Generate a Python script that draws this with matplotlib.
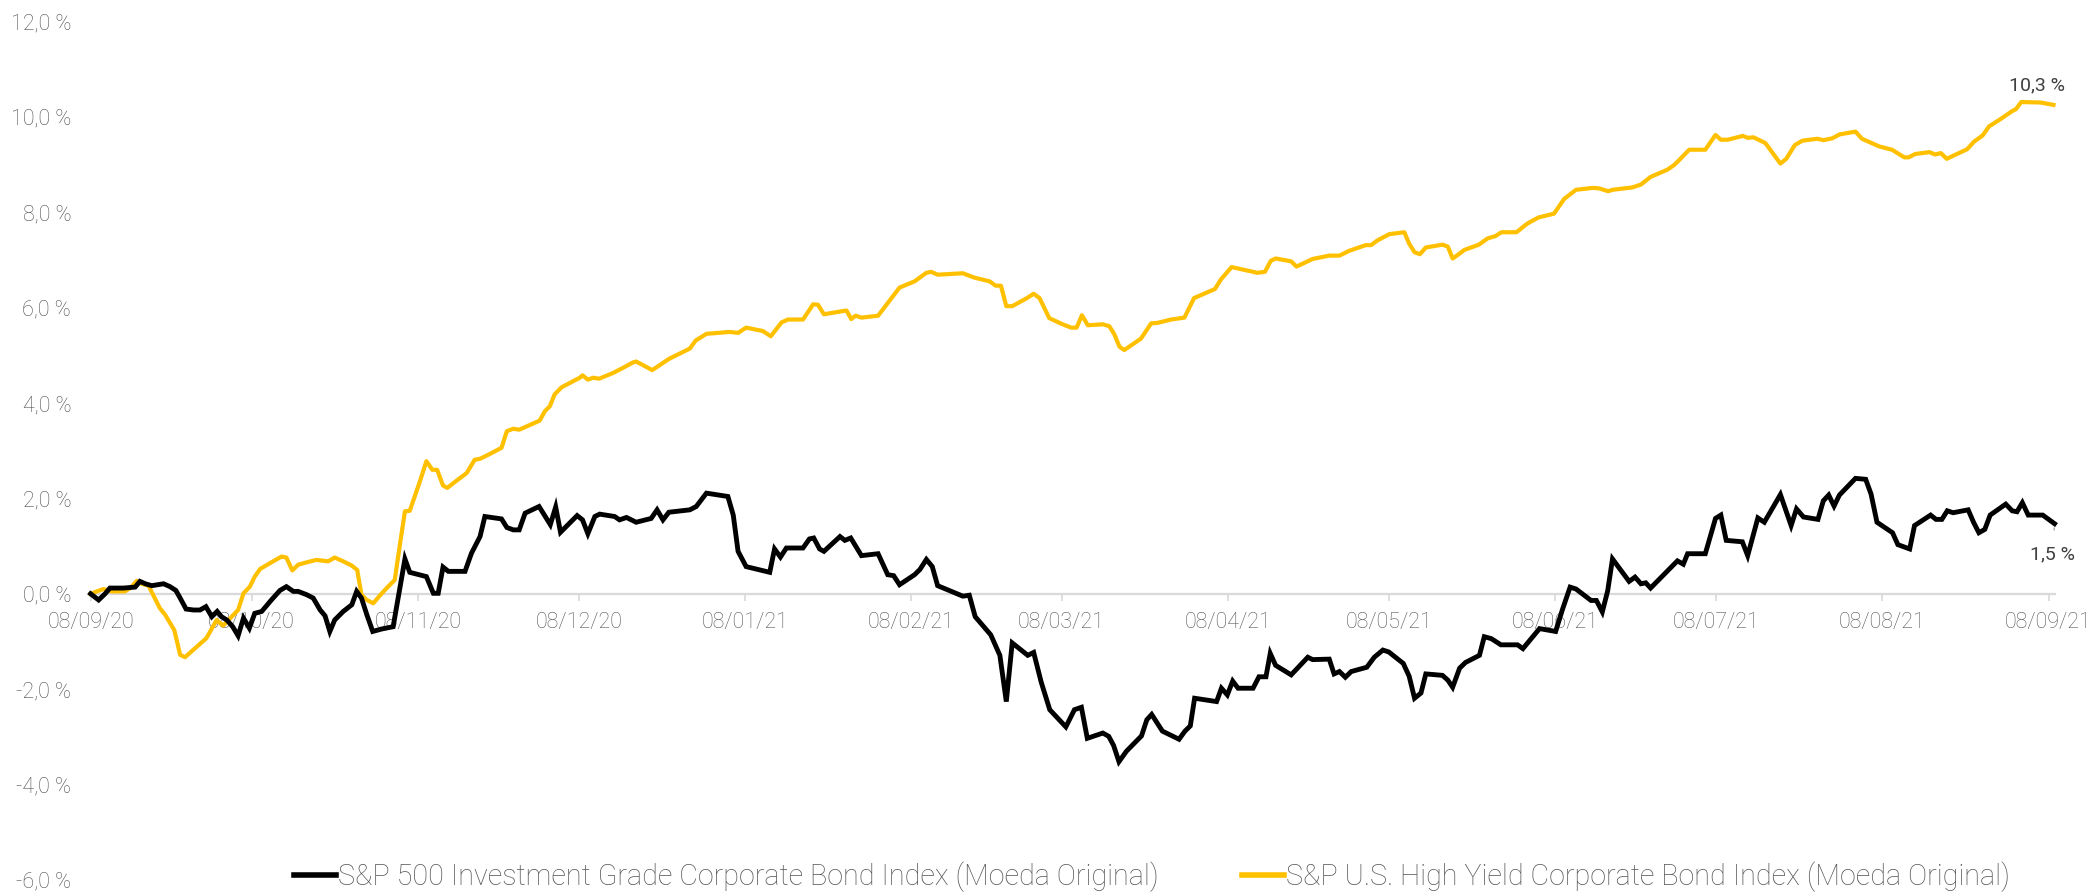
import matplotlib
matplotlib.use("Agg")
import matplotlib.pyplot as plt
import matplotlib.dates as mdates
from matplotlib.ticker import FuncFormatter
import pandas as pd

plt.rcParams['font.family'] = ['Roboto', 'DejaVu Sans']

start_date = "2020-09-08"

# S&P U.S. High Yield Corporate Bond Index (days since start, cumulative return %)
hy_days = [0, 2.4, 3.9, 6.4, 7.4, 8.6, 9.5, 10.8, 12.9, 13.9, 15.6, 16.7, 17.6, 19.5, 21.6,
           23.5, 24.7, 26.3, 27.5, 28.5, 29.7, 30.6, 31.6, 33.4, 35.6, 36.5, 37.6, 38.7, 40.3,
           42.1, 44.3, 45.5, 47.1, 48.7, 49.7, 50.5, 51.5, 52.7, 53.9, 55.2, 56.7, 57.7, 58.6,
           59.5, 61.4, 62.6, 63.7, 64.6, 65.7, 66.5, 68.2, 70.1, 71.6, 72.6, 74.4, 76.6, 77.6,
           78.8, 79.9, 81.3, 83.7, 84.7, 85.6, 86.5, 87.8, 91.2, 91.7, 92.7, 93.7, 94.8, 97.4,
           99.3, 101.1, 101.7, 104.7, 107.9, 111.7, 112.8, 114.8, 119.1, 120.7, 122.2, 125.3,
           126.8, 128.8, 130.0, 132.8, 134.7, 135.6, 136.7, 140.9, 141.8, 142.6, 143.7, 146.8,
           150.8, 153.6, 155.8, 156.7, 157.9, 162.6, 164.7, 167.6, 168.7, 169.7, 170.7, 171.8,
           174.4, 175.8, 176.9, 178.7, 181.2, 182.8, 183.8, 184.8, 185.9, 188.7, 189.9, 190.8,
           191.8, 192.7, 195.8, 197.7, 198.9, 201.4, 203.9, 205.7, 209.6, 210.7, 212.7, 217.5,
           218.9, 220.0, 220.9, 223.8, 224.8, 227.8, 230.9, 232.8, 234.6, 237.7, 238.7, 239.9,
           242.1, 244.9, 245.8, 246.8, 247.8, 248.9, 252.0, 253.0, 253.9, 254.8, 256.1, 258.8,
           260.4, 261.9, 263.0, 265.8, 267.8, 269.9, 272.8, 274.7, 276.9, 280.0, 281.2, 282.9,
           283.7, 287.4, 289.0, 290.8, 293.9, 295.2, 296.1, 298.0, 301.0, 302.9, 303.9, 305.2,
           308.0, 308.9, 310.0, 312.2, 315.0, 316.1, 317.7, 319.1, 321.9, 323.0, 324.7, 326.0,
           329.0, 330.2, 331.6, 333.4, 335.8, 338.1, 338.9, 340.1, 342.8, 343.8, 344.9, 346.0,
           349.8, 351.1, 352.7, 353.9, 356.0, 358.2, 358.9, 359.9, 363.5, 365.9]
hy_values = [0.00, 0.10, 0.05, 0.05, 0.12, 0.27, 0.21, 0.17, -0.30, -0.44, -0.76, -1.28, -1.33,
             -1.14, -0.93, -0.55, -0.67, -0.48, -0.34, 0.01, 0.15, 0.36, 0.52, 0.64, 0.78, 0.76,
             0.49, 0.61, 0.66, 0.71, 0.68, 0.76, 0.68, 0.59, 0.50, -0.02, -0.13, -0.20, -0.04,
             0.12, 0.29, 1.06, 1.73, 1.74, 2.36, 2.78, 2.60, 2.60, 2.27, 2.22, 2.37, 2.53, 2.81,
             2.83, 2.93, 3.06, 3.41, 3.46, 3.44, 3.51, 3.63, 3.83, 3.93, 4.18, 4.33, 4.53, 4.58,
             4.49, 4.53, 4.51, 4.63, 4.74, 4.85, 4.87, 4.69, 4.93, 5.14, 5.31, 5.45, 5.49, 5.47,
             5.58, 5.51, 5.40, 5.69, 5.75, 5.75, 6.07, 6.06, 5.86, 5.94, 5.76, 5.83, 5.79, 5.83,
             6.42, 6.55, 6.73, 6.75, 6.69, 6.72, 6.63, 6.55, 6.46, 6.46, 6.03, 6.03, 6.19, 6.29,
             6.20, 5.78, 5.65, 5.58, 5.58, 5.84, 5.63, 5.65, 5.61, 5.45, 5.18, 5.11, 5.35, 5.67,
             5.68, 5.75, 5.79, 6.20, 6.39, 6.59, 6.85, 6.73, 6.75, 6.98, 7.03, 6.97, 6.86, 7.02,
             7.09, 7.09, 7.19, 7.31, 7.31, 7.41, 7.54, 7.58, 7.34, 7.16, 7.12, 7.26, 7.32, 7.28,
             7.03, 7.10, 7.21, 7.32, 7.45, 7.50, 7.58, 7.58, 7.76, 7.89, 7.97, 8.28, 8.47, 8.51,
             8.50, 8.44, 8.47, 8.52, 8.58, 8.74, 8.89, 8.99, 9.09, 9.31, 9.31, 9.62, 9.52, 9.52,
             9.60, 9.56, 9.57, 9.45, 9.02, 9.12, 9.41, 9.50, 9.54, 9.51, 9.55, 9.63, 9.69, 9.54,
             9.47, 9.38, 9.31, 9.15, 9.15, 9.22, 9.26, 9.21, 9.24, 9.12, 9.32, 9.48, 9.61, 9.80,
             9.95, 10.12, 10.16, 10.31, 10.30, 10.25]

# S&P 500 Investment Grade Corporate Bond Index
ig_days = [0, 1.5, 2.7, 3.6, 6.1, 8.3, 9.2, 10.2, 11.4, 13.6, 14.8, 15.9, 16.7, 17.8, 19.2,
           20.4, 21.5, 22.6, 23.6, 24.4, 25.4, 26.5, 27.5, 28.5, 29.6, 30.6, 31.9, 33.7, 35.3,
           36.5, 37.8, 38.7, 40.3, 41.5, 42.8, 43.7, 44.6, 45.5, 47.1, 48.7, 49.6, 50.5, 51.5,
           52.6, 54.2, 56.4, 58.6, 59.5, 62.6, 63.9, 64.8, 65.7, 66.7, 69.8, 71.0, 72.6, 73.5,
           76.6, 77.6, 78.8, 79.9, 81.0, 83.6, 85.7, 86.7, 87.6, 90.7, 91.7, 92.7, 94.0, 94.9,
           97.7, 98.6, 99.9, 101.7, 104.5, 105.6, 106.7, 107.8, 111.7, 112.9, 114.8, 118.8,
           119.8, 120.7, 122.2, 126.6, 127.5, 128.6, 129.7, 132.8, 134.0, 134.8, 135.9, 136.7,
           139.7, 140.6, 141.7, 143.7, 146.8, 148.6, 149.7, 150.8, 153.6, 154.6, 155.8, 156.9,
           157.9, 162.6, 163.8, 164.9, 167.8, 169.5, 170.7, 171.8, 174.7, 175.8, 177.2, 178.8,
           181.8, 183.4, 184.7, 185.8, 188.7, 189.8, 190.7, 191.7, 193.1, 195.9, 196.9, 197.8,
           199.8, 202.9, 204.0, 205.0, 205.8, 209.9, 210.8, 211.9, 212.9, 213.9, 216.7, 217.8,
           219.1, 219.9, 220.9, 223.8, 226.9, 227.8, 230.9, 231.8, 232.8, 233.9, 235.0, 237.9,
           239.3, 240.9, 242.0, 244.7, 245.8, 246.8, 248.0, 248.9, 252.0, 253.0, 253.9, 255.2,
           256.3, 258.9, 259.8, 261.1, 262.9, 266.0, 267.0, 270.1, 273.1, 274.4, 275.8, 276.9,
           279.7, 280.7, 281.8, 282.8, 283.7, 286.8, 287.9, 289.0, 289.9, 290.8, 295.8, 296.9,
           297.7, 301.0, 302.9, 303.9, 304.9, 307.9, 308.9, 310.8, 312.0, 315.0, 317.0, 318.0,
           319.3, 322.0, 323.0, 324.0, 325.0, 326.0, 329.0, 330.9, 331.9, 333.0, 335.9, 336.9,
           339.1, 340.0, 343.0, 344.0, 345.1, 346.1, 347.2, 350.0, 351.0, 352.0, 353.1, 354.1,
           357.0, 358.2, 359.1, 360.1, 361.2, 363.9, 366.1]
ig_values = [0.00, -0.13, 0.00, 0.12, 0.12, 0.14, 0.26, 0.21, 0.17, 0.21, 0.15, 0.07, -0.09,
             -0.32, -0.34, -0.34, -0.27, -0.48, -0.37, -0.48, -0.55, -0.69, -0.88, -0.51, -0.72,
             -0.41, -0.37, -0.13, 0.07, 0.15, 0.05, 0.05, -0.02, -0.09, -0.34, -0.46, -0.79,
             -0.55, -0.37, -0.23, 0.05, -0.09, -0.44, -0.79, -0.74, -0.69, 0.73, 0.45, 0.36, 0.01,
             0.01, 0.56, 0.47, 0.47, 0.85, 1.20, 1.62, 1.57, 1.39, 1.34, 1.34, 1.69, 1.83, 1.45,
             1.82, 1.29, 1.64, 1.55, 1.26, 1.62, 1.67, 1.62, 1.55, 1.60, 1.50, 1.58, 1.76, 1.55,
             1.71, 1.76, 1.83, 2.11, 2.04, 1.65, 0.89, 0.57, 0.45, 0.94, 0.77, 0.96, 0.96, 1.15,
             1.17, 0.94, 0.89, 1.20, 1.12, 1.17, 0.80, 0.84, 0.40, 0.38, 0.19, 0.40, 0.51, 0.72,
             0.57, 0.17, -0.05, -0.03, -0.48, -0.86, -1.29, -2.26, -1.03, -1.29, -1.23, -1.85,
             -2.43, -2.79, -2.43, -2.38, -3.03, -2.92, -2.99, -3.18, -3.52, -3.30, -2.98, -2.64,
             -2.53, -2.88, -3.05, -2.88, -2.77, -2.19, -2.26, -1.98, -2.12, -1.83, -1.98, -1.98,
             -1.74, -1.74, -1.25, -1.50, -1.70, -1.33, -1.38, -1.37, -1.68, -1.63, -1.75, -1.63,
             -1.54, -1.33, -1.18, -1.22, -1.46, -1.73, -2.19, -2.08, -1.68, -1.71, -1.81, -1.96,
             -1.56, -1.44, -1.29, -0.90, -0.94, -1.07, -1.07, -1.15, -0.73, -0.79, -0.32, 0.14,
             0.10, -0.14, -0.14, -0.38, 0.06, 0.73, 0.26, 0.35, 0.21, 0.23, 0.12, 0.69, 0.62,
             0.84, 0.84, 1.58, 1.65, 1.12, 1.09, 0.80, 1.59, 1.50, 2.08, 1.43, 1.78, 1.61, 1.56,
             1.95, 2.07, 1.84, 2.07, 2.42, 2.40, 2.09, 1.50, 1.28, 1.03, 0.94, 1.43, 1.65, 1.56,
             1.56, 1.74, 1.70, 1.76, 1.50, 1.28, 1.35, 1.65, 1.88, 1.74, 1.72, 1.91, 1.65, 1.65,
             1.47]

ig_label = "S&P 500 Investment Grade Corporate Bond Index (Moeda Original)"
hy_label = "S&P U.S. High Yield Corporate Bond Index (Moeda Original)"
ig_end_label = "1,5 %"
hy_end_label = "10,3 %"
y_ticks = [-6, -4, -2, 0, 2, 4, 6, 8, 10, 12]
n_months = 13

t0 = pd.Timestamp(start_date)
hy_dates = t0 + pd.to_timedelta(hy_days, unit="D")
ig_dates = t0 + pd.to_timedelta(ig_days, unit="D")
month_ticks = [t0 + pd.DateOffset(months=i) for i in range(n_months)]

fig = plt.figure(figsize=(20.87, 8.93), dpi=100)
ax = fig.add_axes([0.0434, 0.0146, 0.9413, 0.9614])

BLACK = "#000000"
GOLD = "#FFC000"
ax.plot(ig_dates, ig_values, color=BLACK, lw=3.5, solid_joinstyle="miter",
        label=ig_label, zorder=4, clip_on=False)
ax.plot(hy_dates, hy_values, color=GOLD, lw=3.0, label=hy_label, zorder=3, clip_on=False)

ax.set_xlim(t0, t0 + pd.Timedelta(days=366.2))
ax.set_ylim(-6, 12)

for s in ["left", "right", "top"]:
    ax.spines[s].set_visible(False)
ax.spines["bottom"].set_position(("data", 0))
ax.spines["bottom"].set_color("#d9d9d9")
ax.spines["bottom"].set_linewidth(1.6)
ax.spines["bottom"].set_zorder(2)

ax.set_xticks(month_ticks)
ax.xaxis.set_major_formatter(mdates.DateFormatter("%d/%m/%y"))
ax.tick_params(axis="x", direction="out", length=5, width=1.2, color="#d9d9d9",
               pad=8, labelsize=15.5, labelcolor="#595959")
ax.set_yticks(y_ticks)
ax.yaxis.set_major_formatter(FuncFormatter(lambda v, p: f"{v:.1f} %".replace(".", ",")))
ax.tick_params(axis="y", length=0, pad=14, labelsize=15.5, labelcolor="#505050")
for lab in ax.get_xticklabels() + ax.get_yticklabels():
    lab.set_fontweight("light")

# end labels
ax.annotate(hy_end_label, xy=(hy_dates[-1], hy_values[-1]), xytext=(-12, 14),
            textcoords="offset points", ha="center", va="center", fontsize=14,
            color="#404040")
ax.annotate(ig_end_label, xy=(ig_dates[-1], ig_values[-1]), xytext=(-1.5, -22),
            textcoords="offset points", ha="center", va="center", fontsize=14,
            color="#404040",
            arrowprops=dict(arrowstyle="-", color="#a6a6a6", lw=1.0, shrinkA=9, shrinkB=3))

leg = fig.legend(loc="center", bbox_to_anchor=(0.552, 0.018), ncol=2, frameon=False,
                 fontsize=20.7, handlelength=1.45, handletextpad=0.08, columnspacing=2.9,
                 borderaxespad=0)
for t in leg.get_texts():
    t.set_color("#595959")
    t.set_fontweight("light")
for h in leg.get_lines():
    h.set_linewidth(4)

fig.savefig("out.png", dpi=100)
